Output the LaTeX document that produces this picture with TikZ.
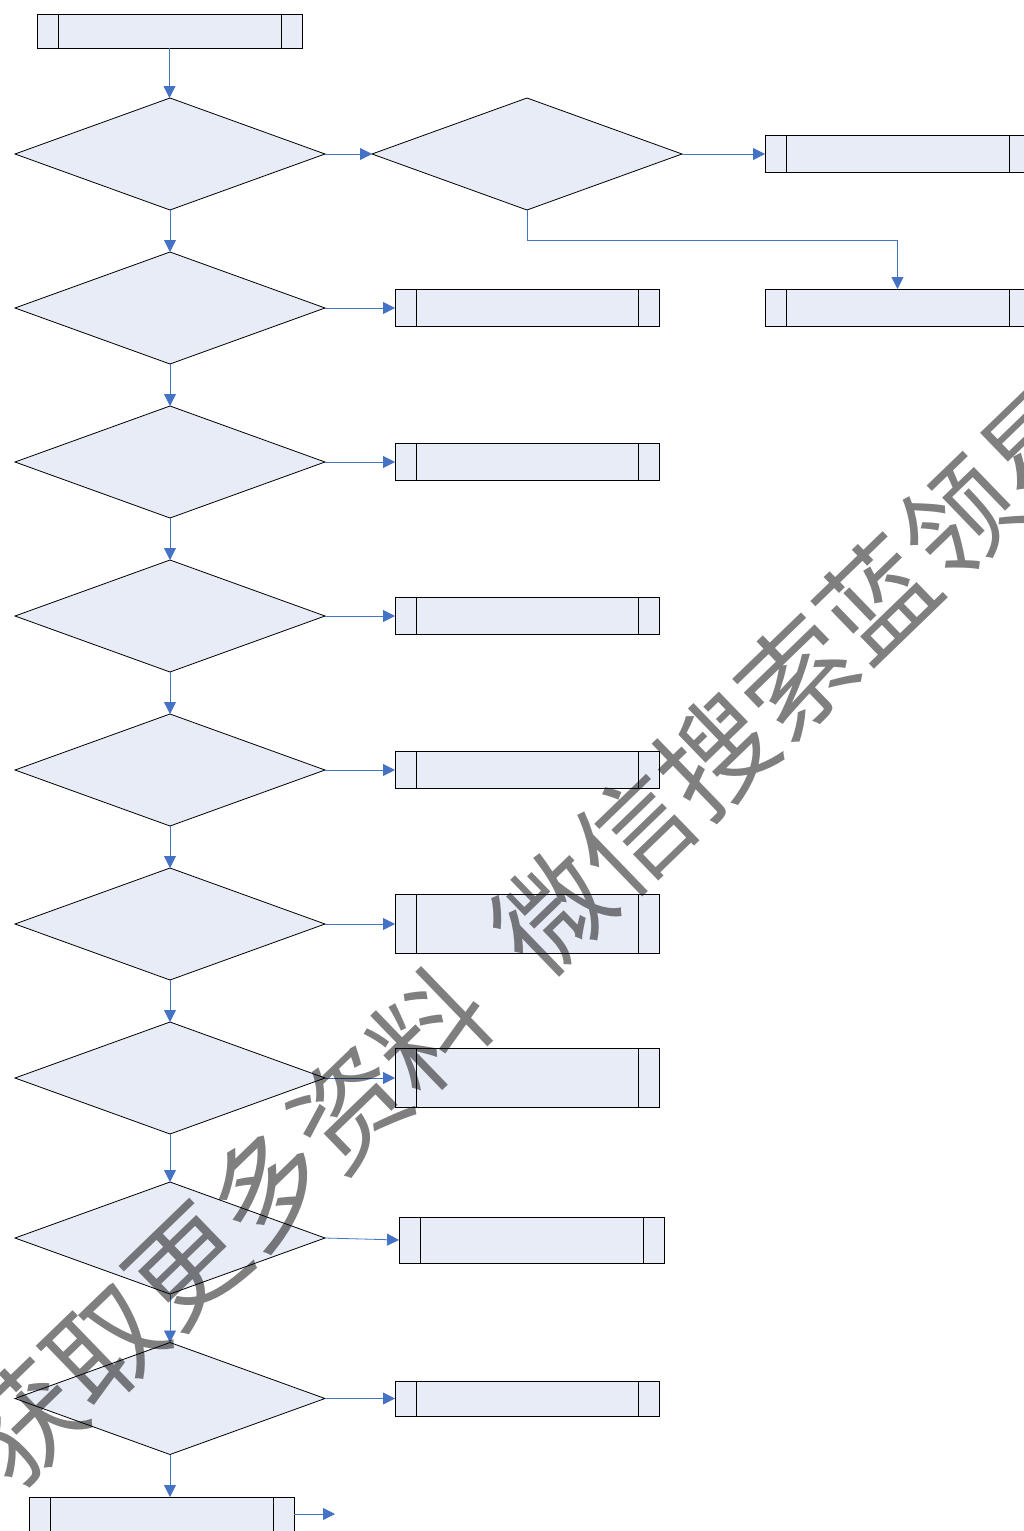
\documentclass[tikz,border=0pt]{standalone}
\usepackage{fontspec}
\newfontfamily\wmfont{Noto Sans CJK SC}
\usetikzlibrary{shapes.geometric,arrows.meta}
\definecolor{shapefill}{RGB}{232,236,247}
\definecolor{linkblue}{RGB}{68,114,196}
\tikzset{
  proc/.style={draw=black, line width=1pt, fill=shapefill, rectangle, inner sep=0pt, outer sep=0pt,
    minimum width=#1,
    path picture={\draw[line width=1pt] ([xshift=21pt]path picture bounding box.north west) -- ([xshift=21pt]path picture bounding box.south west)
      ([xshift=-21pt]path picture bounding box.north east) -- ([xshift=-21pt]path picture bounding box.south east);}},
  proc/.default=265pt,
  decision/.style={draw=black, line width=0.8pt, fill=shapefill, diamond, inner sep=0pt, outer sep=0pt,
    minimum width=310pt, minimum height=112pt},
  link/.style={draw=linkblue, line width=0.8pt, -{Triangle[length=12pt,width=12pt]}},
}
\begin{document}
\begin{tikzpicture}[x=1pt,y=-1pt]
\useasboundingbox (0,0) rectangle (1024,1531);
\clip (0,0) rectangle (1024,1531);
\fill[white] (0,0) rectangle (1024,1531);

% process boxes
\node[proc, minimum height=34pt] (top) at (169.5,31) {};
\node[proc, minimum height=37pt] (rb1) at (897.5,154) {};
\node[proc, minimum height=37pt] (rb2) at (897.5,307.5) {};
\node[proc=264pt, minimum height=37pt] (m2) at (527,307.5) {};
\node[proc=264pt, minimum height=37pt] (m3) at (527,461.5) {};
\node[proc=264pt, minimum height=37pt] (m4) at (527,615.5) {};
\node[proc=264pt, minimum height=37pt] (m5) at (527,769.5) {};
\node[proc=264pt, minimum height=59pt] (m6) at (527,923.5) {};
\node[proc=264pt, minimum height=59pt] (m7) at (527,1078) {};
\node[proc=265pt, minimum height=46pt] (m8) at (531.5,1240) {};
\node[proc=264pt, minimum height=35pt] (m9) at (527,1398.5) {};
\node[proc, minimum height=37pt] (bot) at (161.5,1515.5) {};
\coordinate (botend) at (335,1514);

% decisions
\node[decision] (d1) at (170,154) {};
\node[decision] (d1b) at (527,154) {};
\node[decision] (d2) at (170,308) {};
\node[decision] (d3) at (170,462) {};
\node[decision] (d4) at (170,616) {};
\node[decision] (d5) at (170,770) {};
\node[decision] (d6) at (170,924) {};
\node[decision] (d7) at (170,1078) {};
\node[decision] (d8) at (170,1238) {};
\node[decision] (d9) at (170,1398.5) {};

% connectors
\draw[link] (top.south) -- (top.south |- d1.north);
\draw[link] (d1.east) -- (d1b.west);
\draw[link] (d1b.east) -- (rb1.west);
\draw[link] (d1b.south) -- ++(0,30) -| (rb2.north);
\draw[link] (d1.south) -- (d2.north);
\draw[link] (d2.south) -- (d3.north);
\draw[link] (d3.south) -- (d4.north);
\draw[link] (d4.south) -- (d5.north);
\draw[link] (d5.south) -- (d6.north);
\draw[link] (d6.south) -- (d7.north);
\draw[link] (d7.south) -- (d8.north);
\draw[link] (d8.south) -- (d9.north);
\draw[link] (d9.south) -- (d9.south |- bot.north);
\draw[link] (d2.east) -- (d2.east -| m2.west);
\draw[link] (d3.east) -- (d3.east -| m3.west);
\draw[link] (d4.east) -- (d4.east -| m4.west);
\draw[link] (d5.east) -- (d5.east -| m5.west);
\draw[link] (d6.east) -- (d6.east -| m6.west);
\draw[link] (d7.east) -- (d7.east -| m7.west);
\draw[link] (d8.east) -- (m8.west);
\draw[link] (d9.east) -- (d9.east -| m9.west);
\draw[link] (bot.east |- botend) -- (botend);

% watermark
\node[rotate=44, text=black, text opacity=0.5, inner sep=0pt,
  font={\wmfont\fontsize{113}{113}\selectfont}] (wm) at (532,932) {获取更多资料\hspace{0.5em}微信搜索蓝领星};
\end{tikzpicture}
\end{document}
